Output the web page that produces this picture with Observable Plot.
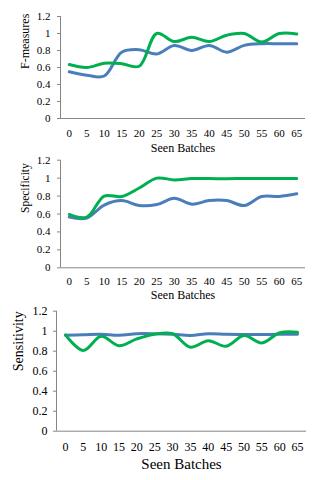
<!DOCTYPE html>
<html>
<head>
<meta charset="utf-8">
<script src="https://cdn.jsdelivr.net/npm/d3@7"></script>
<script src="https://cdn.jsdelivr.net/npm/@observablehq/plot@0.6"></script>
<style>
  html, body { margin: 0; padding: 0; background: #fff; }
  #chart { width: 318px; }
  #chart svg { display: block; }
</style>
</head>
<body>
<div id="chart"></div>
<script>
const batches = [0, 5, 10, 15, 20, 25, 30, 35, 40, 45, 50, 55, 60, 65];
const yTicks = [0, 0.2, 0.4, 0.6, 0.8, 1, 1.2];

const fmBlue  = [0.55, 0.51, 0.50, 0.78, 0.81, 0.76, 0.86, 0.80, 0.86, 0.78, 0.86, 0.88, 0.88, 0.88];
const fmGreen = [0.635, 0.60, 0.65, 0.645, 0.615, 1.0, 0.905, 0.955, 0.905, 0.98, 1.0, 0.90, 1.0, 0.995];

const spBlue  = [0.565, 0.555, 0.70, 0.75, 0.695, 0.705, 0.775, 0.71, 0.75, 0.75, 0.695, 0.795, 0.795, 0.825];
const spGreen = [0.595, 0.565, 0.80, 0.795, 0.89, 1.0, 0.98, 0.995, 0.995, 0.993, 0.996, 0.996, 0.996, 0.996];

const seBlue  = [0.96, 0.965, 0.97, 0.96, 0.975, 0.975, 0.97, 0.957, 0.975, 0.97, 0.967, 0.967, 0.97, 0.97];
const seGreen = [0.963, 0.807, 0.95, 0.855, 0.923, 0.97, 0.975, 0.84, 0.905, 0.85, 0.957, 0.883, 0.985, 0.99];

const BLUE = "#4A7EBB";
const GREEN = "#00B050";
const AXIS = "#868686";
const FONT = "'Liberation Serif', 'Times New Roman', serif";

function panel(o) {
  const line = (vals, color) => Plot.line(vals, {x: (d, i) => batches[i], y: d => d,
    stroke: color, curve: "catmull-rom", strokeWidth: 3, strokeLinecap: "round", strokeLinejoin: "round"});
  return Plot.plot({
    width: 318,
    height: o.height,
    marginTop: o.mt,
    marginBottom: o.mb,
    marginLeft: o.ml,
    marginRight: o.mr,
    style: {fontFamily: FONT, fontSize: o.tickFont + "px", color: "#000", background: "#fff", overflow: "visible"},
    x: {domain: [-2.5, 67.5]},
    y: {domain: [0, 1.2]},
    marks: [
      Plot.ruleY([0], {stroke: AXIS, strokeWidth: 1}),
      Plot.ruleX([-2.5], {stroke: AXIS, strokeWidth: 1}),
      Plot.axisY({ticks: yTicks, tickSize: 3, tickPadding: o.yPad, stroke: AXIS,
        tickFormat: d => String(+d.toFixed(1)), label: null, fontSize: o.tickFont, fontFamily: FONT}),
      Plot.axisX({ticks: batches, tickSize: 0, tickPadding: o.xPad, label: null, fontSize: o.tickFont, fontFamily: FONT}),
      line(o.blue, BLUE),
      line(o.green, GREEN),
      Plot.text(["Seen Batches"], {frameAnchor: "bottom", dy: o.titleDy, lineAnchor: "middle",
        fontSize: o.titleFont, fontFamily: FONT, fill: "#000"}),
      Plot.text([o.ylabel], {frameAnchor: "left", dx: o.ylabelDx, dy: o.ylabelDy, rotate: -90,
        lineAnchor: "middle", fontSize: o.ylabelFont, fontFamily: FONT, fill: "#000"})
    ]
  });
}

const chart = document.getElementById("chart");
chart.appendChild(panel({height: 155, mt: 16, mb: 37, ml: 60, mr: 13,
  blue: fmBlue, green: fmGreen, ylabel: "F-measures",
  tickFont: 11, titleFont: 12, ylabelFont: 12, yPad: 7, xPad: 11, titleDy: 30, ylabelDx: -35, ylabelDy: 1.5}));
chart.appendChild(panel({height: 149, mt: 4.7, mb: 36.7, ml: 60, mr: 13,
  blue: spBlue, green: spGreen, ylabel: "Specificity",
  tickFont: 11, titleFont: 12, ylabelFont: 11.5, yPad: 7, xPad: 9.5, titleDy: 27, ylabelDx: -35, ylabelDy: -1}));
chart.appendChild(panel({height: 176, mt: 6.7, mb: 49.3, ml: 56, mr: 12,
  blue: seBlue, green: seGreen, ylabel: "Sensitivity",
  tickFont: 12, titleFont: 15, ylabelFont: 14, yPad: 6, xPad: 11.5, titleDy: 33.3, ylabelDx: -38, ylabelDy: 0}));
</script>
</body>
</html>
